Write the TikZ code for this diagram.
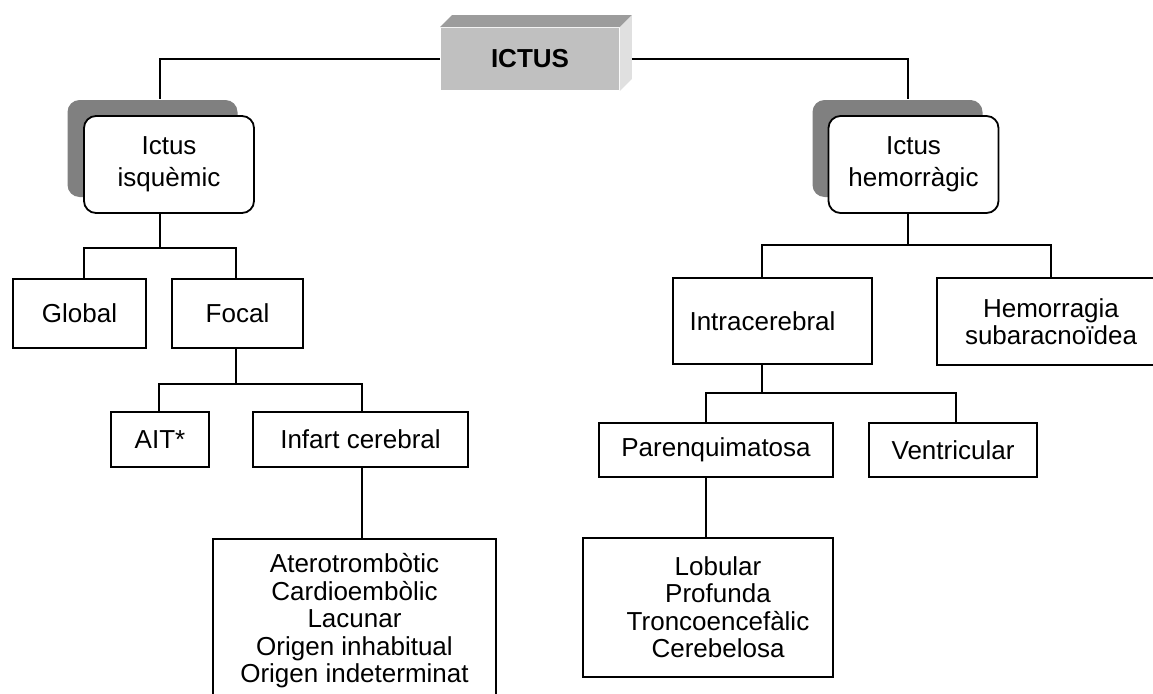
\documentclass[tikz,border=0pt]{standalone}
\usepackage{fontspec}
\setmainfont{Liberation Sans}
\usepackage{tikz}
\usetikzlibrary{positioning}
\definecolor{frontgray}{HTML}{C0C0C0}
\definecolor{topgray}{HTML}{9C9C9C}
\definecolor{sidegray}{HTML}{E0E0E0}
\definecolor{shadowgray}{HTML}{808080}

\begin{document}
\begin{tikzpicture}[x=1pt,y=-1pt,line width=1.8pt,
	font=\fontsize{26}{27.5}\selectfont,
	box/.style={draw,fill=white,align=center,inner sep=0pt},
	roundbox/.style={draw,fill=white,rounded corners=12pt,minimum width=170pt,minimum height=97pt,align=center,font=\fontsize{26}{32}\selectfont},
	shadowbox/.style={fill=shadowgray,rounded corners=12pt,minimum width=170pt,minimum height=97pt}
	]
	\useasboundingbox (0,0) rectangle (1153,693);
	\clip (0,0) rectangle (1153,693);
	% top box
	\node[box,fill=frontgray,draw=none,minimum width=178pt,minimum height=62pt,font=\fontsize{26}{27.5}\selectfont\bfseries] (ictus) at (530,59) {ICTUS};
	\fill[topgray] (ictus.north west) -- ++(12,-12) -- ([shift={(12,-12)}]ictus.north east) -- (ictus.north east) -- cycle;
	\fill[sidegray] (ictus.north east) -- ++(12,-12) -- ([shift={(12,-12)}]ictus.south east) -- (ictus.south east) -- cycle;
	% two kinds
	\node[shadowbox] (isqsh) at (152.5,148.5) {};
	\node[roundbox] (isq) at (169,164.5) {Ictus\\isquèmic};
	\node[shadowbox] (hemsh) at (897.5,148.5) {};
	\node[roundbox] (hem) at (913.5,164.5) {Ictus\\hemorràgic};
	% left branch
	\node[box,minimum width=133pt,minimum height=69pt] (glob) at (79.5,313.5) {Global};
	\node[box,minimum width=131pt,minimum height=69pt] (foc) at (237.5,313.5) {Focal};
	\node[box,minimum width=98pt,minimum height=55pt] (ait) at (160,439.5) {AIT*};
	\node[box,minimum width=215pt,minimum height=55pt] (inf) at (360.5,439.5) {Infart cerebral};
	\node[box,anchor=north,minimum width=283pt,minimum height=164pt] (subt) at (354.5,538) {Aterotrombòtic\\Cardioembòlic\\Lacunar\\Origen inhabitual\\Origen indeterminat};
	% right branch
	\node[box,minimum width=199pt,minimum height=86pt,label={[xshift=-10pt]center:Intracerebral}] (intra) at (772.5,321) {};
	\node[box,minimum width=228pt,minimum height=87pt] (hsa) at (1051,321.5) {Hemorragia\\subaracnoïdea};
	\node[box,minimum width=234pt,minimum height=54pt] (par) at (716,450) {Parenquimatosa};
	\node[box,minimum width=168pt,minimum height=54pt] (vent) at (953,450) {Ventricular};
	\node[box,anchor=north,minimum width=250pt,minimum height=139pt,label={[xshift=10pt,align=center]center:Lobular\\Profunda\\Troncoencefàlic\\Cerebelosa}] (lob) at (708,537) {};

	\draw (ictus.west) -| ([xshift=7.5pt]isqsh.north);
	\draw ([xshift=12pt]ictus.east) -| ([xshift=10.5pt]hemsh.north);
	\draw ([xshift=-9pt]isq.south) -- ++(0,34) coordinate (isqbus);
	\draw (isqbus) -| ([xshift=4.5pt]glob.north);
	\draw (isqbus) -| ([xshift=-1.5pt]foc.north);
	\draw ([xshift=-1.5pt]foc.south) -- ++(0,35) coordinate (focbus);
	\draw (focbus) -| ([xshift=-1pt]ait.north);
	\draw (focbus) -| ([xshift=1.5pt]inf.north);
	\draw ([xshift=1.5pt]inf.south) coordinate (infdown) -- (infdown |- subt.north);
	\draw ([xshift=-5.5pt]hem.south) -- ++(0,31) coordinate (hembus);
	\draw (hembus) -| ([xshift=-10.5pt]intra.north);
	\draw (hembus) -| (hsa.north);
	\draw ([xshift=-10.5pt]intra.south) -- ++(0,28) coordinate (intrabus);
	\draw (intrabus) -| ([xshift=-10pt]par.north);
	\draw (intrabus) -| ([xshift=3pt]vent.north);
	\draw ([xshift=-10pt]par.south) coordinate (pardown) -- (pardown |- lob.north);
\end{tikzpicture}
\end{document}
